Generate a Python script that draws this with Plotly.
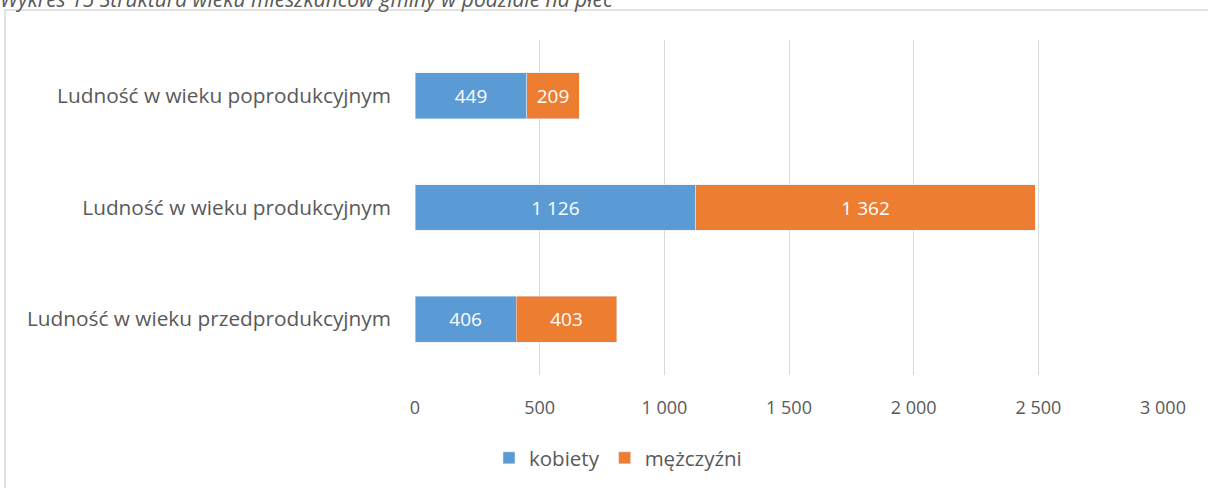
import plotly.graph_objects as go

categories = ["Ludność w wieku przedprodukcyjnym", "Ludność w wieku produkcyjnym", "Ludność w wieku poprodukcyjnym"]
kobiety = [406, 1126, 449]
mezczyzni = [403, 1362, 209]
x_ticks = [0, 500, 1000, 1500, 2000, 2500, 3000]
title_text = "Wykres 15 Struktura wieku mieszkańców gminy w podziale na płeć"

font_family = "'Open Sans', sans-serif"
grey = "#595959"

# plot area in pixels
W, H = 1208, 488
L, R, T, B = 415, 45, 40, 113
pw, ph = W - L - R, H - T - B

def px_x(p):
    return (p - L) / pw

def px_y(p):
    return (H - B - p) / ph

fig = go.Figure()
fig.add_trace(go.Bar(y=categories, x=kobiety, name="kobiety", orientation="h",
                     marker=dict(color="#5B9BD5"),
                     texttemplate="%{x:,}", textposition="inside", insidetextanchor="middle",
                     textfont=dict(color="white", size=19, family=font_family)))
fig.add_trace(go.Bar(y=categories, x=mezczyzni, name="mężczyźni", orientation="h",
                     marker=dict(color="#ED7D31"),
                     texttemplate="%{x:,}", textposition="inside", insidetextanchor="middle",
                     textfont=dict(color="white", size=19, family=font_family)))

fig.update_layout(
    barmode="stack", bargap=0.59,
    width=W, height=H,
    margin=dict(l=L, r=R, t=T, b=B, autoexpand=False),
    separators=", ",
    paper_bgcolor="white", plot_bgcolor="white",
    font=dict(family=font_family, size=18, color=grey),
    showlegend=True,
    legend=dict(orientation="h", x=px_x(618), xanchor="center", y=px_y(458), yanchor="middle",
                font=dict(size=20.5, color=grey), traceorder="normal", itemwidth=30),
    xaxis=dict(range=[0, 3000], tickvals=x_ticks, tickformat=",", showgrid=True,
               gridcolor="#d9d9d9", gridwidth=1, zeroline=False, showline=False,
               ticks="", ticklabelstandoff=20, tickfont=dict(size=18)),
    yaxis=dict(showgrid=False, ticks="", showline=False, ticklabelstandoff=23,
               tickfont=dict(size=20.8)),
)

# outer chart border
fig.add_shape(type="rect", xref="paper", yref="paper",
              x0=px_x(5), x1=px_x(1215), y0=px_y(500), y1=px_y(10),
              line=dict(color="#d9d9d9", width=1.5), layer="below")

# title, partly cut off at the top like the source
fig.add_annotation(text="<i>" + title_text + "</i>", xref="paper", yref="paper",
                   x=px_x(-2), y=px_y(-1), xanchor="left", yanchor="middle",
                   showarrow=False, font=dict(size=21, color=grey, family=font_family))

fig.write_html("out.html", config={"displayModeBar": False},
               post_script="document.body.style.margin='0px';")
